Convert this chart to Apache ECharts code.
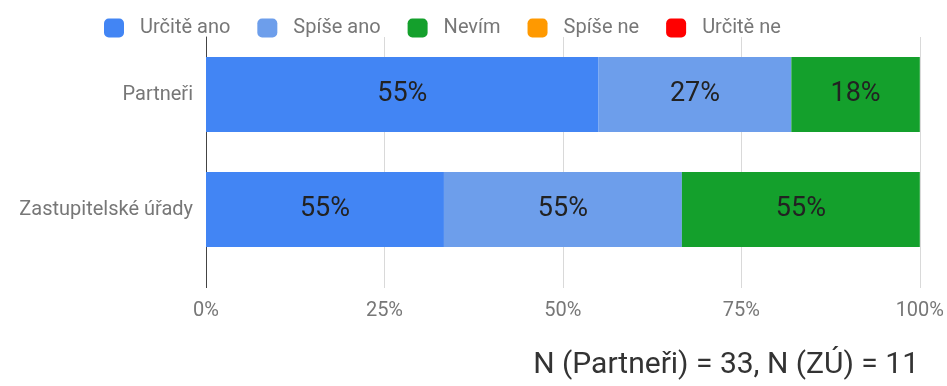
<!DOCTYPE html>
<html>
<head>
<meta charset="utf-8">
<script src="https://cdn.jsdelivr.net/npm/echarts@6/dist/echarts.min.js"></script>
<style>
  html, body { margin: 0; padding: 0; background: #fff; }
  #chart { width: 947px; height: 386px; }
</style>
</head>
<body>
<div id="chart"></div>
<script>
// Respondent groups and answer options
const categories = ['Partneři', 'Zastupitelské úřady'];
const answers = ['Určitě ano', 'Spíše ano', 'Nevím', 'Spíše ne', 'Určitě ne'];
const colors = ['#4285f4', '#6d9eeb', '#14a02c', '#ff9900', '#ff0000'];

// Reported values per answer (one entry per group)
const urciteAno = [55, 55];
const spiseAno = [27, 55];
const nevim = [18, 55];
const spiseNe = [0, 0];
const urciteNe = [0, 0];

const xTickLabels = ['0%', '25%', '50%', '75%', '100%'];
const footnote = 'N (Partneři) = 33, N (ZÚ) = 11';

const seriesValues = [urciteAno, spiseAno, nevim, spiseNe, urciteNe];

// Each bar is stacked to 100 % of its group's total
const totals = categories.map((_, i) => seriesValues.reduce((s, arr) => s + arr[i], 0));

const FONT = 'Roboto, "Noto Sans", sans-serif';

const series = answers.map((name, k) => ({
  name: name,
  type: 'bar',
  stack: 'total',
  barWidth: 75,
  itemStyle: { color: colors[k] },
  label: {
    show: true,
    position: 'inside',
    color: '#222',
    fontFamily: FONT,
    fontSize: 27,
    formatter: p => (p.data.raw > 0 ? p.data.raw + '%' : '')
  },
  data: seriesValues[k].map((v, i) => ({ value: v / totals[i] * 100, raw: v }))
}));

const chart = echarts.init(document.getElementById('chart'));
chart.setOption({
  animation: false,
  color: colors,
  legend: {
    top: 13,
    left: 99,
    itemWidth: 20,
    itemHeight: 19,
    itemGap: 27,
    icon: 'roundRect',
    textStyle: { color: '#777', fontFamily: FONT, fontSize: 20, padding: [0, 0, 0, 11] },
    data: answers
  },
  grid: { left: 206, right: 26, top: 37, height: 230, containLabel: false },
  xAxis: [{
    type: 'value',
    min: 0,
    max: 100,
    interval: 25,
    axisLine: { show: false },
    axisTick: { show: true, inside: false, length: 21, lineStyle: { color: '#d9d9d9' } },
    splitLine: { show: true, lineStyle: { color: '#d9d9d9', width: 1 } },
    axisLabel: {
      margin: 34,
      color: '#777',
      fontFamily: FONT,
      fontSize: 20,
      formatter: v => xTickLabels[v / 25]
    }
  }, {
    // dark baseline extension below the zero line
    type: 'value',
    position: 'bottom',
    min: 0,
    max: 100,
    interval: 25,
    axisLine: { show: false },
    splitLine: { show: false },
    axisLabel: { show: false },
    axisTick: { show: true, length: 21, customValues: [0], lineStyle: { color: '#444' } }
  }],
  yAxis: {
    type: 'category',
    inverse: true,
    data: categories,
    axisLine: { show: true, lineStyle: { color: '#444', width: 1 } },
    axisTick: { show: false },
    axisLabel: { margin: 13, color: '#777', fontFamily: FONT, fontSize: 20 }
  },
  graphic: [{
    type: 'text',
    right: 28,
    top: 350,
    style: { text: footnote, fill: '#333', font: '30px ' + FONT }
  }],
  series: series
});
</script>
</body>
</html>
